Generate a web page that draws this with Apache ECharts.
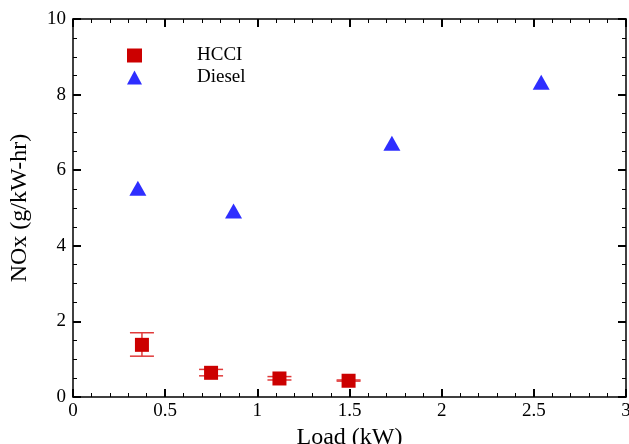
<!DOCTYPE html>
<html><head><meta charset="utf-8">
<script src="https://cdn.jsdelivr.net/npm/echarts@6/dist/echarts.min.js"></script>
<style>html,body{margin:0;padding:0;background:#fff}#c{width:629px;height:444px}</style>
</head><body><div id="c"></div>
<script>
const hcciLoad = [0.374, 0.749, 1.12, 1.495];
const hcciNOx = [1.38, 0.64, 0.49, 0.43];
const hcciErrLow = [1.08, 0.56, 0.45, 0.42];
const hcciErrHigh = [1.70, 0.73, 0.54, 0.45];
const dieselLoad = [0.352, 0.871, 1.73, 2.54];
const dieselNOx = [5.52, 4.92, 6.71, 8.33];

const FONT = 'Liberation Serif';
const chart = echarts.init(document.getElementById('c'));

const axisCommon = {
  type: 'value',
  axisLine: {show: true, onZero: false, lineStyle: {color: '#000', width: 1.5}},
  axisTick: {show: true, inside: true, length: 8, lineStyle: {color: '#000', width: 2}},
  minorTick: {show: true, length: 4, lineStyle: {color: '#000', width: 1}},
  splitLine: {show: false},
  minorSplitLine: {show: false}
};

chart.setOption({
  animation: false,
  grid: {left: 73, right: 3, top: 19, bottom: 47, outerBoundsMode: 'none', containLabel: false},
  legend: {
    orient: 'vertical', left: 122, top: 41, itemWidth: 15, itemHeight: 14, itemGap: 3,
    textStyle: {fontFamily: FONT, fontSize: 19, color: '#000', padding: [0, 0, 0, 50]},
    data: [{name: 'HCCI', icon: 'rect'}, {name: 'Diesel', icon: 'triangle'}]
  },
  xAxis: [
    Object.assign({}, axisCommon, {
      min: 0, max: 3, interval: 0.5, position: 'bottom',
      minorTick: Object.assign({}, axisCommon.minorTick, {splitNumber: 5}),
      axisLabel: {fontFamily: FONT, fontSize: 19, color: '#000', margin: 5},
      name: 'Load (kW)', nameLocation: 'middle', nameGap: 29,
      nameTextStyle: {fontFamily: FONT, fontSize: 24, color: '#000'}
    }),
    Object.assign({}, axisCommon, {
      min: 0, max: 3, interval: 0.5, position: 'top',
      minorTick: Object.assign({}, axisCommon.minorTick, {splitNumber: 5}),
      axisLabel: {show: false}
    })
  ],
  yAxis: [
    Object.assign({}, axisCommon, {
      min: 0, max: 10, interval: 2, position: 'left',
      minorTick: Object.assign({}, axisCommon.minorTick, {splitNumber: 4}),
      axisLabel: {fontFamily: FONT, fontSize: 19, color: '#000', margin: 7},
      name: 'NOx (g/kW-hr)', nameLocation: 'middle', nameGap: 41,
      nameTextStyle: {fontFamily: FONT, fontSize: 24, color: '#000'}
    }),
    Object.assign({}, axisCommon, {
      min: 0, max: 10, interval: 2, position: 'right',
      minorTick: Object.assign({}, axisCommon.minorTick, {splitNumber: 4}),
      axisLabel: {show: false}
    })
  ],
  series: [
    {
      name: 'HCCI-err', type: 'custom',
      data: hcciLoad.map((x, i) => [x, hcciErrLow[i], hcciErrHigh[i]]),
      renderItem: function (params, api) {
        const lo = api.coord([api.value(0), api.value(1)]);
        const hi = api.coord([api.value(0), api.value(2)]);
        const w = 12;
        const st = {stroke: '#e03a3a', lineWidth: 1.5};
        return {type: 'group', children: [
          {type: 'line', shape: {x1: lo[0], y1: lo[1], x2: hi[0], y2: hi[1]}, style: st},
          {type: 'line', shape: {x1: lo[0]-w, y1: lo[1], x2: lo[0]+w, y2: lo[1]}, style: st},
          {type: 'line', shape: {x1: hi[0]-w, y1: hi[1], x2: hi[0]+w, y2: hi[1]}, style: st}
        ]};
      },
      z: 1
    },
    {
      name: 'HCCI', type: 'scatter', symbol: 'rect', symbolSize: 14,
      itemStyle: {color: '#cc0000', opacity: 1},
      data: hcciLoad.map((x, i) => [x, hcciNOx[i]]), z: 2
    },
    {
      name: 'Diesel', type: 'scatter', symbol: 'triangle', symbolSize: [17, 15],
      itemStyle: {color: '#2e2eff', opacity: 1},
      data: dieselLoad.map((x, i) => [x, dieselNOx[i]]), z: 2
    }
  ]
});
</script></body></html>
